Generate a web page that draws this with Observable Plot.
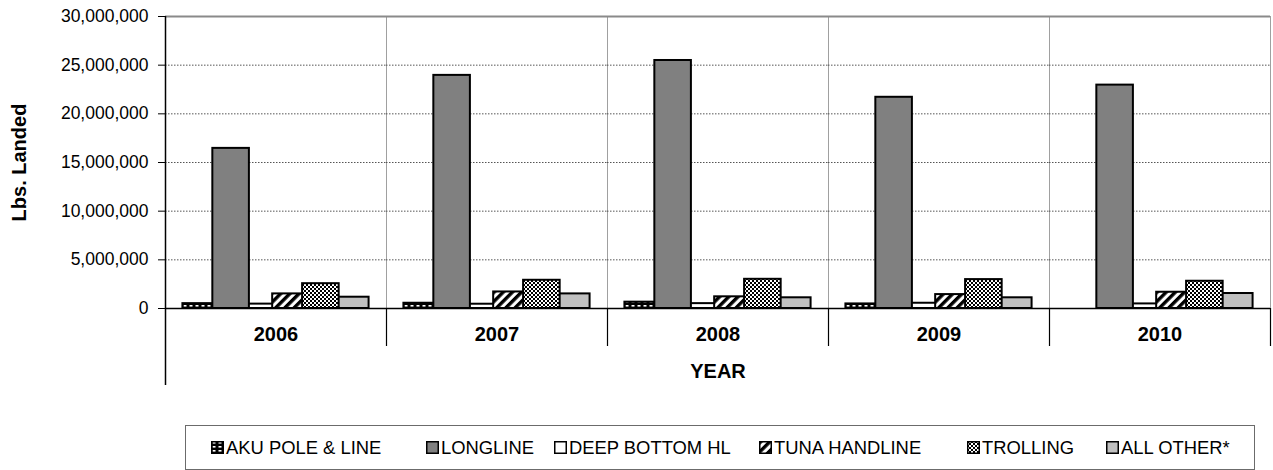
<!DOCTYPE html>
<html><head><meta charset="utf-8">
<script src="https://cdn.jsdelivr.net/npm/d3@7"></script>
<script src="https://cdn.jsdelivr.net/npm/@observablehq/plot@0.6"></script>
<style>
body{margin:0;background:#fff;font-family:"Liberation Sans",Arial,sans-serif;}
#wrap{position:relative;width:1273px;height:470px;overflow:hidden;}
#legend{position:absolute;left:185px;top:425px;width:1070px;height:45px;border:1.5px solid #6b6b6b;box-sizing:border-box;}
.item{position:absolute;top:0;height:100%;display:flex;align-items:center;font-size:18.4px;color:#000;white-space:nowrap;}
.item svg{margin-right:2px;display:block}
g[aria-label="y-axis label"] text{font-weight:bold;font-size:20px;}
</style></head><body>
<svg width="0" height="0" style="position:absolute"><defs>
<pattern id="pAku" width="6" height="4" patternUnits="userSpaceOnUse">
 <rect width="6" height="4" fill="#000"/><rect x="1.5" y="1" width="3" height="1.6" fill="#fff"/>
</pattern>
<pattern id="pTuna" width="6.5" height="6.5" patternUnits="userSpaceOnUse" patternTransform="rotate(45)">
 <rect width="6.5" height="6.5" fill="#fff"/><rect width="3.4" height="6.5" fill="#000"/>
</pattern>
<pattern id="pTroll" width="4" height="4" patternUnits="userSpaceOnUse">
 <rect width="4" height="4" fill="#fff"/><rect width="2" height="2" fill="#000"/><rect x="2" y="2" width="2" height="2" fill="#000"/>
</pattern>
</defs></svg>
<div id="wrap"><div id="chart"></div><div id="legend"></div></div>
<script>
const years = ["2006", "2007", "2008", "2009", "2010"];
const gears = ["AKU POLE & LINE", "LONGLINE", "DEEP BOTTOM HL", "TUNA HANDLINE", "TROLLING", "ALL OTHER*"];
const aku          = [500000, 540000, 650000, 470000, 0];
const longline     = [16450000, 23950000, 25480000, 21700000, 22950000];
const deepBottom   = [450000, 440000, 500000, 540000, 470000];
const tunaHandline = [1500000, 1700000, 1200000, 1430000, 1670000];
const trolling     = [2550000, 2900000, 3000000, 2970000, 2800000];
const allOther     = [1160000, 1500000, 1100000, 1100000, 1540000];
const yTicks = [0, 5000000, 10000000, 15000000, 20000000, 25000000, 30000000];
const gearFills = ["url(#pAku)", "#808080", "#ffffff", "url(#pTuna)", "url(#pTroll)", "#c0c0c0"];

const series = [aku, longline, deepBottom, tunaHandline, trolling, allOther];
const drawOrder = [0, 2, 3, 1, 5, 4];
const rows = [];
for (const gi of drawOrder) {
  years.forEach((yr, yi) => {
    const v = series[gi][yi];
    if (v > 0) rows.push({year: yr, gear: gears[gi], i: gi, value: v});
  });
}
const halfW = 0.611;
const xDom = [-1.193, 6.193];
const pxPerUnit = 292 / 30000000;
const belowSep = -38 / pxPerUnit;
const belowAxis = -77 / pxPerUnit;

const chart = Plot.plot({
  width: 1273,
  height: 390,
  marginLeft: 163,
  marginRight: 2,
  marginTop: 16,
  marginBottom: 82,
  style: {fontFamily: "'Liberation Sans', Arial, sans-serif", color: "#000", background: "#fff", overflow: "visible"},
  fx: {domain: years, padding: 0, label: null},
  x: {domain: xDom, axis: null},
  y: {domain: [0, 30000000]},
  color: {type: "ordinal", domain: gears, range: gearFills},
  marks: [
    Plot.frame({stroke: "#a0a0a0", strokeWidth: 1}),
    Plot.gridY(yTicks.slice(1, -1), {stroke: "#555", strokeOpacity: 1, strokeDasharray: "1.5,1.5", strokeWidth: 1}),
    Plot.ruleY([30000000], {stroke: "#8a8a8a", strokeWidth: 2}),
    Plot.rect(rows, {fx: "year", x1: d => d.i - halfW, x2: d => d.i + halfW, y1: 0, y2: "value", fill: "gear", stroke: "#000", strokeWidth: 2}),
    Plot.ruleY([0], {stroke: "#000", strokeWidth: 1.5}),
    Plot.ruleX(years.map(y => ({year: y})), {fx: "year", x: xDom[1], y1: 0, y2: belowSep, stroke: "#000", strokeWidth: 1.2}),
    Plot.ruleX([{year: years[0]}], {fx: "year", x: xDom[0], y1: 30000000, y2: belowAxis, stroke: "#000", strokeWidth: 1.5}),
    Plot.axisY({ticks: yTicks, tickFormat: d3.format(","), tickSize: 7, tickPadding: 10, fontSize: 17.5, label: "Lbs. Landed", labelAnchor: "center", labelOffset: 154, labelArrow: "none"}),
    Plot.axisFx({anchor: "bottom", tickSize: 0, tickPadding: 18, fontSize: 20, fontWeight: "bold", label: "YEAR", labelAnchor: "center", labelOffset: 69, labelArrow: "none"})
  ]
});
document.getElementById("chart").appendChild(chart);

const legendLefts = [25, 240, 368, 573, 781, 920];
const legend = document.getElementById("legend");
gears.forEach((g, k) => {
  const item = document.createElement("div");
  item.className = "item";
  item.style.left = legendLefts[k] + "px";
  item.innerHTML = `<svg width="13" height="13"><rect x="0.75" y="0.75" width="11.5" height="11.5" fill="${gearFills[k]}" stroke="#000" stroke-width="1.5"/></svg><span>${g.replace("&", "&amp;")}</span>`;
  legend.appendChild(item);
});
</script>
</body></html>
